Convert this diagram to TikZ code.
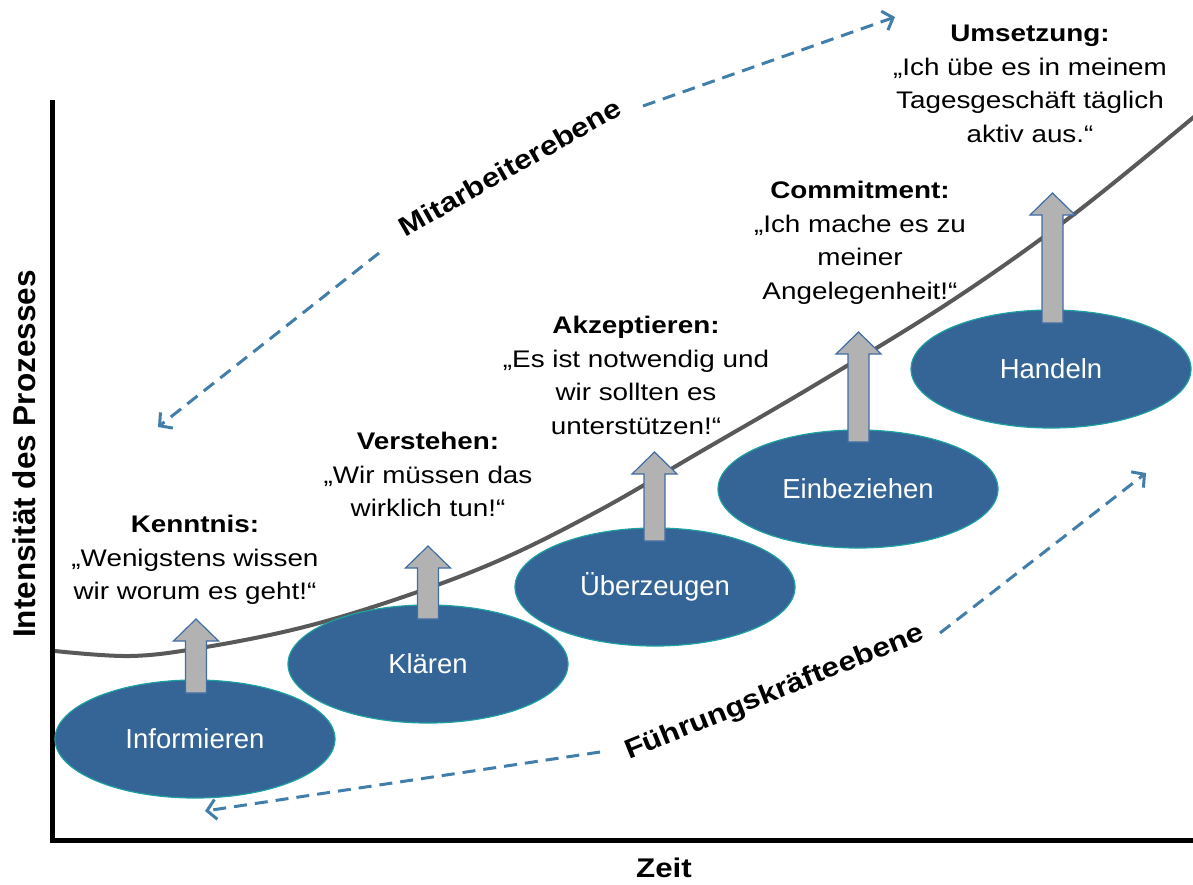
\documentclass[tikz,border=0pt]{standalone}
\usepackage{fontspec}
\setmainfont{Liberation Sans}
\newfontfamily\widesans[FakeStretch=1.16]{Liberation Sans}
\usetikzlibrary{shapes.geometric,arrows.meta}
\definecolor{ellfill}{RGB}{52,101,150}
\definecolor{ellline}{RGB}{30,160,160}
\definecolor{dashblue}{RGB}{66,126,170}
\definecolor{curvegray}{RGB}{89,89,89}
\definecolor{arrfill}{RGB}{178,178,178}
\definecolor{arrline}{RGB}{65,110,165}
\newcommand\blkarrow[3]{%
  \draw[arrline, fill=arrfill, line width=1.2pt, line join=miter]
    (#1,#2) -- (#1+22.5,#2+22) -- (#1+10.5,#2+22) -- (#1+10.5,#3)
    -- (#1-10.5,#3) -- (#1-10.5,#2+22) -- (#1-22.5,#2+22) -- cycle;}
\begin{document}
\begin{tikzpicture}[x=1pt,y=-1pt,
  stage/.style={ellipse, draw=ellline, line width=1.2pt, fill=ellfill,
    minimum width=280pt, minimum height=118pt, inner sep=0pt, text=white,
    font=\fontsize{27.5}{30}\selectfont},
  quote/.style={align=center, anchor=north, inner sep=0pt,
    font=\widesans\fontsize{24}{33.5}\selectfont},
  level/.style={inner sep=0pt, font=\widesans\bfseries\fontsize{27}{30}\selectfont},
  dashline/.style={draw=dashblue, line width=3pt, dash pattern=on 13pt off 8pt,
    -{Straight Barb[length=9pt,width=20pt,line width=3pt]}},
  axis/.style={line width=5pt}
]
\useasboundingbox (0,0) rectangle (1193,884);

% axes
\coordinate (ytop) at (52,100);
\coordinate (origin) at (52,840);
\coordinate (xend) at (1193,840);
\draw[axis] (ytop) -- (origin) -- (xend);
\node[rotate=90, inner sep=0pt, font=\bfseries\fontsize{31.5}{33}\selectfont] (ylab) at (24,454) {Intensität des Prozesses};
\node[inner sep=0pt, font=\widesans\bfseries\fontsize{27}{30}\selectfont] (zeit) at (664,868) {Zeit};

% curve
\draw[curvegray, line width=4pt] plot[smooth, tension=0.6] coordinates
  {(55,651) (130,656) (200,648) (300,628) (400,598) (500,560) (600,510) (700,452) (820,382) (953,300) (1073,215) (1195,116)};

% stages
\node[stage] (s1) at (195,739) {Informieren};
\node[stage] (s2) at (428,664) {Klären};
\node[stage] (s3) at (655,587) {Überzeugen};
\node[stage] (s4) at (858,489) {Einbeziehen};
\node[stage] (s5) at (1051,369) {Handeln};

% block arrows
\blkarrow{196}{619}{693}
\blkarrow{428}{546}{619}
\blkarrow{654.5}{452}{541}
\blkarrow{858.5}{332}{442}
\blkarrow{1052.5}{193}{323}

% quotes
\node[quote] (q1) at (195,515) {{\bfseries Kenntnis:}\\„Wenigstens wissen\\wir worum es geht!“};
\node[quote] (q2) at (428,432) {{\bfseries Verstehen:}\\„Wir müssen das\\wirklich tun!“};
\node[quote] (q3) at (636,316) {{\bfseries Akzeptieren:}\\„Es ist notwendig und\\wir sollten es\\unterstützen!“};
\node[quote] (q4) at (860,181) {{\bfseries Commitment:}\\„Ich mache es zu\\meiner\\Angelegenheit!“};
\node[quote] (q5) at (1030,25) {{\bfseries Umsetzung:}\\„Ich übe es in meinem\\Tagesgeschäft täglich\\aktiv aus.“};

% levels
\node[level, rotate=29.6] (mit) at (510,167) {Mitarbeiterebene};
\node[level, rotate=22] (fuehr) at (775,693) {Führungskräfteebene};

\coordinate (m1) at (379,253); \coordinate (m1e) at (158,427);
\coordinate (m2) at (643,106); \coordinate (m2e) at (895,17);
\coordinate (f1) at (600,752); \coordinate (f1e) at (205,811);
\coordinate (f2) at (940,633); \coordinate (f2e) at (1146,473);
\draw[dashline] (m1) -- (m1e);
\draw[dashline] (m2) -- (m2e);
\draw[dashline] (f1) -- (f1e);
\draw[dashline] (f2) -- (f2e);
\end{tikzpicture}
\end{document}
